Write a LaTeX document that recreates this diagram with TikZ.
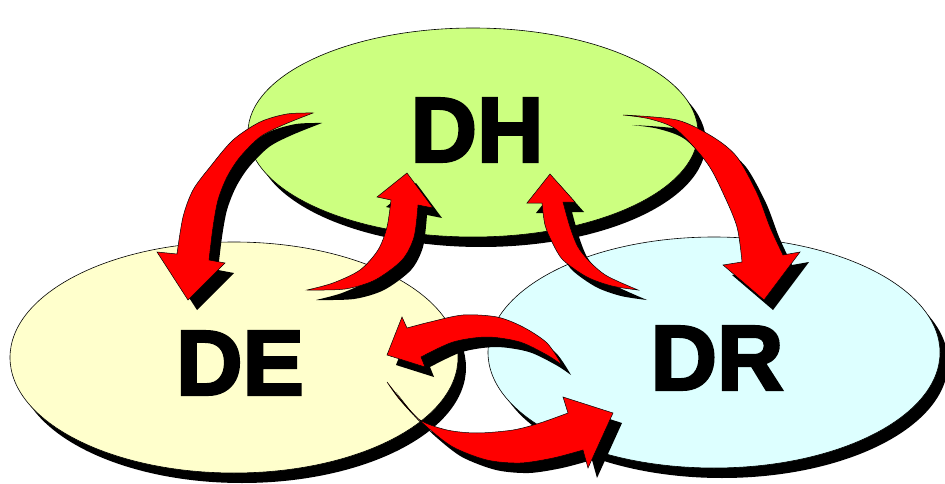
\documentclass[tikz,border=0pt]{standalone}
\usepackage{fontspec}
\setmainfont{Liberation Sans}
% heavy label face: bold, slightly emboldened further
\newfontfamily\lblfont{Liberation Sans}[UprightFont={* Bold},FakeBold=3]
\usetikzlibrary{shapes.geometric,shadows}

\definecolor{dhgreen}{RGB}{204,255,128}
\definecolor{deyellow}{RGB}{255,255,204}
\definecolor{drcyan}{RGB}{221,255,255}
\definecolor{arrowred}{RGB}{255,0,0}

% curved block arrows (pixel-style coordinates, y grows downward)
\newcommand\arrowHE{plot[smooth] coordinates {(313,113) (287,114) (260,122) (233,140) (210,167) (193,190) (183,217) (177,254)} -- (157,252) -- (188,300) -- (225,263) -- (209,260) -- plot[smooth] coordinates {(209,260) (213,227) (218,200) (227,177) (240,157) (260,137) (283,125) (313,113)} -- cycle}
\newcommand\arrowEH{plot[smooth] coordinates {(307,290) (333,283) (360,270) (378,250) (387,227) (391,200)} -- (377,197) -- (407,173) -- (433,208) -- (418,205) -- plot[smooth] coordinates {(418,205) (414,237) (402,260) (375,280) (345,289) (307,290)} -- cycle}
\newcommand\arrowRH{plot[smooth] coordinates {(638,290) (612,286) (587,277) (563,260) (552,242) (545,225) (542,203)} -- (527,203) -- (550,174) -- (575,202) -- (563,202) -- plot[smooth] coordinates {(563,202) (570,227) (578,247) (590,262) (607,276) (638,290)} -- cycle}
\newcommand\arrowHR{plot[smooth] coordinates {(623,115) (677,120) (713,137) (737,157) (757,193) (770,227) (783,255)} -- (800,252) -- (764,300) -- (723,265) -- (742,262) -- plot[smooth] coordinates {(742,262) (737,227) (723,193) (707,163) (677,130) (650,119) (623,115)} -- cycle}
\newcommand\arrowRE{plot[smooth] coordinates {(562,365) (547,343) (523,327) (497,317) (463,315) (430,322) (407,328)} -- (402,317) -- (387,355) -- (425,367) -- (421,357) -- plot[smooth] coordinates {(421,357) (453,342) (487,337) (520,342) (547,355) (562,365)} -- cycle}
\newcommand\arrowER{plot[smooth] coordinates {(387,382) (400,400) (420,420) (447,430) (477,433) (513,430) (540,423) (568,413)} -- (563,397) -- (613,413) -- (588,468) -- (583,450) -- plot[smooth] coordinates {(583,450) (553,458) (520,463) (487,460) (453,447) (427,427) (407,407) (387,382)} -- cycle}

% a red block arrow with a solid black cast shadow
\newcommand\castarrow[1]{%
  \fill[black,shift={(9,10)}] #1;
  \filldraw[fill=arrowred,draw=black,line width=0.5pt,line join=miter] #1;}

\tikzset{
  bubble/.style={ellipse,draw=black,line width=0.6pt,inner sep=0pt,outer sep=0pt,
    drop shadow={shadow xshift=8pt,shadow yshift=-10pt,opacity=1,fill=black}},
  lbl/.style={inner sep=0pt,font=\lblfont\fontsize{92}{92}\selectfont}
}

\begin{document}
\begin{tikzpicture}[x=1pt,y=-1pt]
\useasboundingbox (0,0) rectangle (945,484);

% the three sets
\node[bubble,fill=deyellow,minimum width=448pt,minimum height=231pt] (DE) at (234,357.5) {};
\node[bubble,fill=drcyan,minimum width=452pt,minimum height=231pt] (DR) at (714,352.5) {};
\node[bubble,fill=dhgreen,minimum width=450pt,minimum height=209pt] (DH) at (473,132.5) {};

% labels
\node[lbl] (DHt) at (477,130) {DH};
\node[lbl] (DEt) at (240,363) {DE};
\node[lbl] (DRt) at (717,358) {DR};

% flows between the sets
\castarrow{\arrowHE}
\castarrow{\arrowEH}
\castarrow{\arrowRH}
\castarrow{\arrowHR}
\castarrow{\arrowRE}
\castarrow{\arrowER}
\end{tikzpicture}
\end{document}
